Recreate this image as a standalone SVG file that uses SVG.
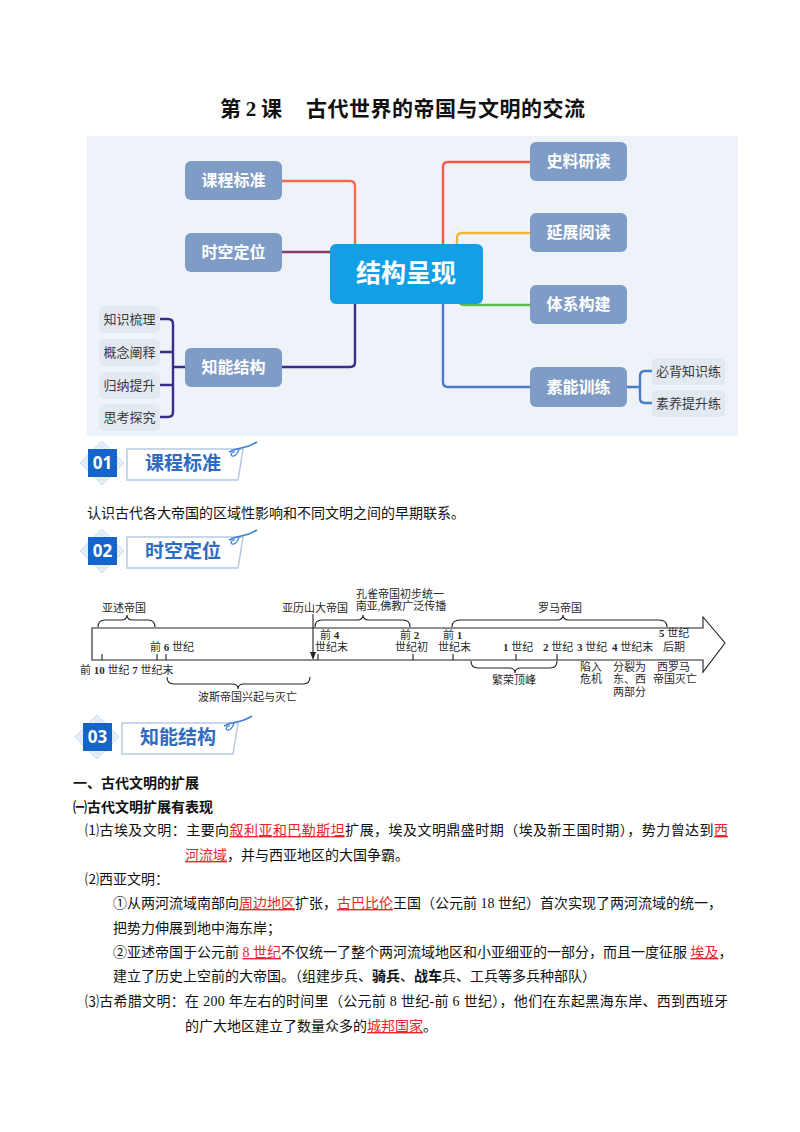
<svg xmlns="http://www.w3.org/2000/svg" width="800" height="1132" viewBox="0 0 800 1132">
<defs>
<style>
.sans{font-family:"Noto Sans CJK SC","Noto Sans",sans-serif;}
.ser{font-family:"Liberation Serif","Noto Sans CJK SC",serif;}
.node{fill:#7F9CC6;}
.ntxt{font-family:"Noto Sans CJK SC",sans-serif;font-size:16px;font-weight:bold;fill:#fff;text-anchor:middle;}
.sub{fill:#E3E9F1;}
.stxt{font-family:"Noto Sans CJK SC",sans-serif;font-size:13px;fill:#3a3a3a;text-anchor:middle;}
.conn{fill:none;stroke-width:2.4;stroke-linecap:round;}
.tl{font-family:"Liberation Serif","Noto Sans CJK SC",serif;font-size:11px;fill:#2a2a2a;}
.tline{fill:none;stroke:#222;stroke-width:1.1;}
.body{font-family:"Liberation Serif","Noto Sans CJK SC",serif;font-size:14px;fill:#111;}
.red{fill:#E8262B;text-decoration:underline;}
.bold{font-weight:bold;}
.htxt{font-family:"Noto Sans CJK SC",sans-serif;font-size:19px;font-weight:bold;fill:#2F6BC0;}
.num{font-family:"Noto Sans","Noto Sans CJK SC",sans-serif;font-size:17px;font-weight:bold;fill:#fff;text-anchor:middle;}
</style>
<g id="hdr">
<polygon points="102,441 124,463 102,485 80,463" fill="#E6EEF8" stroke="#C9D9EF" stroke-width="1"/>
<polygon points="102,446 119,463 102,480 85,463" fill="none" stroke="#D3E0F2" stroke-width="1"/>
<rect x="88" y="449" width="29" height="28" fill="#1565C9"/>
<polygon points="127,449 243,449 238,480 127,480" fill="#fff" stroke="#B7C9E2" stroke-width="1.5"/>
<path d="M229,452 q6,-3 12,-4 q8,-1 16,-6" fill="none" stroke="#3D7FD9" stroke-width="1.5"/>
<path d="M239,449 c-1,4 -4,8 -7,7 c-2,-1 0,-5 3,-4" fill="none" stroke="#3D7FD9" stroke-width="1.3"/>
</g>
</defs>
<rect width="800" height="1132" fill="#fff"/>

<!-- Title -->
<g id="title">
<text class="sans" x="220" y="116" font-size="21" font-weight="bold" fill="#111">第 <tspan font-family="Liberation Serif">2</tspan> 课</text>
<text class="sans" x="306" y="116" font-size="21" font-weight="bold" fill="#111" textLength="279" lengthAdjust="spacing">古代世界的帝国与文明的交流</text>
</g>

<!-- Mind map -->
<g id="mindmap">
<rect x="87" y="136" width="651" height="300" fill="#EEF3FA"/>
<g id="connectors">
<path class="conn" stroke="#F26B4F" d="M282,181 H350 Q355,181 355,186 V250"/>
<path class="conn" stroke="#8C3A6A" d="M282,252 H335"/>
<path class="conn" stroke="#3B2E86" d="M282,367 H350 Q355,367 355,362 V298"/>
<path class="conn" stroke="#3B2E86" d="M160,319 H168 Q173,319 173,324 V412 Q173,417 168,417 H160 M160,352 H173 M160,385 H173 M173,367 H185"/>
<path class="conn" stroke="#EE5A45" d="M443,250 V167 Q443,162 448,162 H530"/>
<path class="conn" stroke="#F2B43A" d="M457,250 V238 Q457,233 462,233 H530"/>
<path class="conn" stroke="#5DBB4E" d="M458,298 Q458,305 465,305 H530"/>
<path class="conn" stroke="#4A7CC9" d="M443,298 V382 Q443,387 448,387 H530"/>
<path class="conn" stroke="#4A7CC9" d="M627,387 H640 M652,371 H645 Q640,371 640,376 V398 Q640,403 645,403 H652"/>
</g>
<g id="n-center"><rect x="330" y="244" width="153" height="60" rx="6" fill="#139FE6"/><text x="406" y="282" font-family="Noto Sans CJK SC,sans-serif" font-size="25" font-weight="bold" fill="#fff" text-anchor="middle">结构呈现</text></g>
<g id="n-kcbz"><rect class="node" x="185" y="161" width="97" height="39" rx="6"/><text class="ntxt" x="233.5" y="186">课程标准</text></g>
<g id="n-skdw"><rect class="node" x="185" y="233" width="97" height="39" rx="6"/><text class="ntxt" x="233.5" y="258">时空定位</text></g>
<g id="n-znjg"><rect class="node" x="185" y="348" width="97" height="39" rx="6"/><text class="ntxt" x="233.5" y="373">知能结构</text></g>
<g id="n-slyd"><rect class="node" x="530" y="142" width="97" height="39" rx="6"/><text class="ntxt" x="578.5" y="167">史料研读</text></g>
<g id="n-zzyd"><rect class="node" x="530" y="213" width="97" height="39" rx="6"/><text class="ntxt" x="578.5" y="238">延展阅读</text></g>
<g id="n-txgj"><rect class="node" x="530" y="285" width="97" height="39" rx="6"/><text class="ntxt" x="578.5" y="310">体系构建</text></g>
<g id="n-snxl"><rect class="node" x="530" y="367" width="97" height="40" rx="6"/><text class="ntxt" x="578.5" y="393">素能训练</text></g>
<g id="s-zssl"><rect class="sub" x="99" y="306" width="61" height="27" rx="5"/><text class="stxt" x="129.5" y="324">知识梳理</text></g>
<g id="s-gnss"><rect class="sub" x="99" y="339" width="61" height="27" rx="5"/><text class="stxt" x="129.5" y="357">概念阐释</text></g>
<g id="s-gnts"><rect class="sub" x="99" y="372" width="61" height="27" rx="5"/><text class="stxt" x="129.5" y="390">归纳提升</text></g>
<g id="s-sktj"><rect class="sub" x="99" y="404" width="61" height="27" rx="5"/><text class="stxt" x="129.5" y="422">思考探究</text></g>
<g id="s-bbzs"><rect class="sub" x="652" y="358" width="73" height="27" rx="5"/><text class="stxt" x="688.5" y="376">必背知识练</text></g>
<g id="s-syts"><rect class="sub" x="652" y="390" width="73" height="27" rx="5"/><text class="stxt" x="688.5" y="408">素养提升练</text></g>
</g>

<!-- Section headers -->
<g id="h01"><use href="#hdr"/><text class="num" x="102.5" y="469">01</text><text class="htxt" x="145" y="470">课程标准</text></g>
<text class="body" x="87" y="518">认识古代各大帝国的区域性影响和不同文明之间的早期联系。</text>
<g id="h02"><use href="#hdr" transform="translate(0,88)"/><text class="num" x="102.5" y="557">02</text><text class="htxt" x="145" y="558">时空定位</text></g>

<!-- Timeline -->
<g id="timeline">
<path class="tline" d="M92,628 H703 V617 L725,643 L703,672 V660 H92 Z"/>
<path class="tline" d="M102,660 V654 M157,660 V654 M166,660 V654 M318,660 V654 M413,660 V654 M453,660 V654 M516,660 V654 M557,660 V654"/>
<path class="tline" d="M98,627 Q98,620 105,620 H121 Q127,620 127,615 Q127,620 133,620 H148 Q155,620 155,627"/>
<path class="tline" d="M315,627 Q315,620 322,620 H357 Q363,620 363,615 Q363,620 369,620 H403 Q410,620 410,627"/>
<path class="tline" d="M452,627 Q452,620 460,620 H557 Q563,620 563,615 Q563,620 569,620 H659 Q667,620 667,627"/>
<path class="tline" d="M167,677 Q167,684 174,684 H232 Q238,684 238,689 Q238,684 244,684 H303 Q310,684 310,677"/>
<path class="tline" d="M471,661 Q471,668 478,668 H509 Q515,668 515,673 Q515,668 521,668 H550 Q557,668 557,661"/>
<line x1="313" y1="614" x2="313" y2="653" stroke="#222" stroke-width="1.1"/>
<polygon points="310,652 316,652 313,660" fill="#222"/>
<text class="tl" x="102" y="612">亚述帝国</text>
<text class="tl" x="282" y="612">亚历山大帝国</text>
<text class="tl" x="400" y="598" text-anchor="middle">孔雀帝国初步统一</text>
<text class="tl" x="401" y="610" text-anchor="middle">南亚,佛教广泛传播</text>
<text class="tl" x="538" y="612">罗马帝国</text>
<text class="tl" x="150" y="651">前 <tspan font-weight="bold">6</tspan> 世纪</text>
<text class="tl" x="320" y="639">前 <tspan font-weight="bold">4</tspan></text>
<text class="tl" x="315" y="651">世纪末</text>
<text class="tl" x="400" y="639">前 <tspan font-weight="bold">2</tspan></text>
<text class="tl" x="395" y="651">世纪初</text>
<text class="tl" x="443" y="639">前 <tspan font-weight="bold">1</tspan></text>
<text class="tl" x="438" y="651">世纪末</text>
<text class="tl" x="503" y="651"><tspan font-weight="bold">1</tspan> 世纪</text>
<text class="tl" x="543" y="651"><tspan font-weight="bold">2</tspan> 世纪</text>
<text class="tl" x="577" y="651"><tspan font-weight="bold">3</tspan> 世纪</text>
<text class="tl" x="612" y="651"><tspan font-weight="bold">4</tspan> 世纪末</text>
<text class="tl" x="659" y="637"><tspan font-weight="bold">5</tspan> 世纪</text>
<text class="tl" x="663" y="651">后期</text>
<text class="tl" x="80" y="674">前 <tspan font-weight="bold">10</tspan> 世纪 <tspan font-weight="bold">7</tspan> 世纪末</text>
<text class="tl" x="198" y="701">波斯帝国兴起与灭亡</text>
<text class="tl" x="492" y="684">繁荣顶峰</text>
<text class="tl" x="580" y="671">陷入</text>
<text class="tl" x="580" y="683">危机</text>
<text class="tl" x="613" y="671">分裂为</text>
<text class="tl" x="613" y="683">东、西</text>
<text class="tl" x="613" y="696">两部分</text>
<text class="tl" x="657" y="671">西罗马</text>
<text class="tl" x="653" y="683">帝国灭亡</text>
</g>

<g id="h03"><use href="#hdr" transform="translate(-5,274)"/><text class="num" x="97.5" y="743">03</text><text class="htxt" x="140" y="744">知能结构</text></g>

<!-- Body text -->
<g id="body">
<text class="sans bold" x="73" y="788" font-size="14" fill="#111">一、古代文明的扩展</text>
<text class="sans bold" x="73" y="812" font-size="14" fill="#111">㈠古代文明扩展有表现</text>
<text class="body" x="85" y="835" textLength="643" lengthAdjust="spacing">⑴古埃及文明：主要向<tspan class="red">叙利亚和巴勒斯坦</tspan>扩展，埃及文明鼎盛时期（埃及新王国时期），势力曾达到<tspan class="red">西</tspan></text>
<text class="body" x="185" y="860"><tspan class="red">河流域</tspan>，并与西亚地区的大国争霸。</text>
<text class="body" x="85" y="884">⑵西亚文明：</text>
<text class="body" x="113" y="908">①从两河流域南部向<tspan class="red">周边地区</tspan>扩张，<tspan class="red">古巴比伦</tspan>王国（公元前 18 世纪）首次实现了两河流域的统一，</text>
<text class="body" x="113" y="933">把势力伸展到地中海东岸；</text>
<text class="body" x="113" y="957">②亚述帝国于公元前 <tspan class="red">8 世纪</tspan>不仅统一了整个两河流域地区和小亚细亚的一部分，而且一度征服 <tspan class="red">埃及</tspan>，</text>
<text class="body" x="113" y="981">建立了历史上空前的大帝国。（组建步兵、<tspan class="bold">骑兵</tspan>、<tspan class="bold">战车</tspan>兵、工兵等多兵种部队）</text>
<text class="body" x="85" y="1006" textLength="643" lengthAdjust="spacing">⑶古希腊文明：在 200 年左右的时间里（公元前 8 世纪-前 6 世纪），他们在东起黑海东岸、西到西班牙</text>
<text class="body" x="185" y="1031">的广大地区建立了数量众多的<tspan class="red">城邦国家</tspan>。</text>
</g>
</svg>
